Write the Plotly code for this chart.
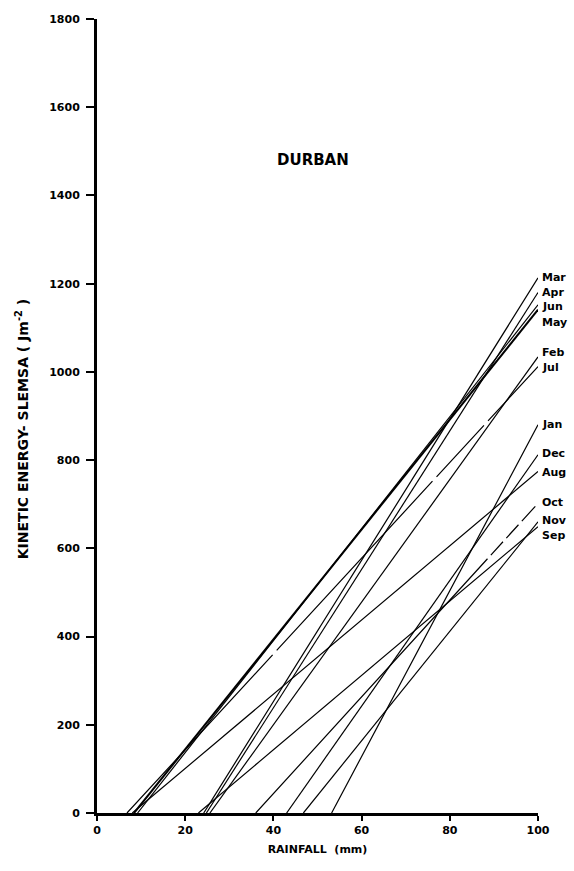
import plotly.graph_objects as go

# Monthly rainfall / kinetic-energy relations for Durban (SLEMSA)
months = ["Mar", "Apr", "Jun", "May", "Feb", "Jul", "Jan", "Dec", "Aug", "Oct", "Nov", "Sep"]
rain_at_zero_ke = [24.2, 24.8, 9.2, 8.4, 25.6, 6.8, 53.2, 43.0, 8.0, 36.0, 46.8, 23.0]
ke_at_100mm = [1213, 1180, 1152, 1141, 1034, 1012, 880, 812, 774, 702, 660, 649]
label_ke = [1213, 1181, 1149, 1113, 1043, 1009, 880, 814, 773, 705, 664, 628]

x_ticks = [0, 20, 40, 60, 80, 100]
y_ticks = [0, 200, 400, 600, 800, 1000, 1200, 1400, 1600, 1800]

FONT = "DejaVu Sans"
# Jul is drawn with a few short breaks, Oct turns dashed towards its end
line_dash = {
    "Jul": "215px,6px,230px,6px,70px,6px,300px",
    "Oct": "344px,5px,18px,5px,18px,5px,20px,40px",
}
line_width = {"May": 2.0}

fig = go.Figure()
for m, x0, y1 in zip(months, rain_at_zero_ke, ke_at_100mm):
    fig.add_trace(go.Scatter(
        x=[x0, 100], y=[0, y1], mode="lines", name=m,
        line=dict(color="black", width=line_width.get(m, 1.2), dash=line_dash.get(m, "solid")),
        showlegend=False, hoverinfo="skip",
    ))

for m, yl in zip(months, label_ke):
    fig.add_annotation(
        x=100, y=yl, xref="x", yref="y", text=f"<b>{m}</b>", showarrow=False,
        xanchor="left", yanchor="middle", xshift=2,
        font=dict(family=FONT, size=11, color="black"),
    )

fig.add_annotation(
    x=49, y=1480, xref="x", yref="y", text="<b>DURBAN</b>", showarrow=False,
    font=dict(family=FONT, size=15, color="black"),
)

fig.add_annotation(
    x=-0.17, y=870, xref="x domain", yref="y", textangle=-90,
    text="<b>KINETIC ENERGY- SLEMSA ( Jm<sup>-2</sup> )</b>", showarrow=False,
    xanchor="center", yanchor="middle",
    font=dict(family=FONT, size=14, color="black"),
)

fig.update_layout(
    width=574, height=871,
    margin=dict(l=97, r=36, t=19, b=58),
    paper_bgcolor="white", plot_bgcolor="white",
    font=dict(family=FONT, color="black"),
    xaxis=dict(
        range=[0, 100], tickvals=x_ticks, ticktext=[f"<b>{v}</b>" for v in x_ticks],
        showgrid=False, zeroline=False, showline=True, linecolor="black", linewidth=2.5,
        ticks="outside", ticklen=5, tickwidth=2, tickcolor="black",
        tickfont=dict(family=FONT, size=11),
        title=dict(text="<b>RAINFALL  (mm)</b>", font=dict(family=FONT, size=11), standoff=10),
    ),
    yaxis=dict(
        range=[0, 1800], tickvals=y_ticks, ticktext=[f"<b>{v}</b>" for v in y_ticks],
        showgrid=False, zeroline=False, showline=True, linecolor="black", linewidth=3,
        ticks="outside", ticklen=8, tickwidth=2, tickcolor="black", ticklabelstandoff=4,
        tickfont=dict(family=FONT, size=11),
    ),
)

fig.write_html("out.html")
